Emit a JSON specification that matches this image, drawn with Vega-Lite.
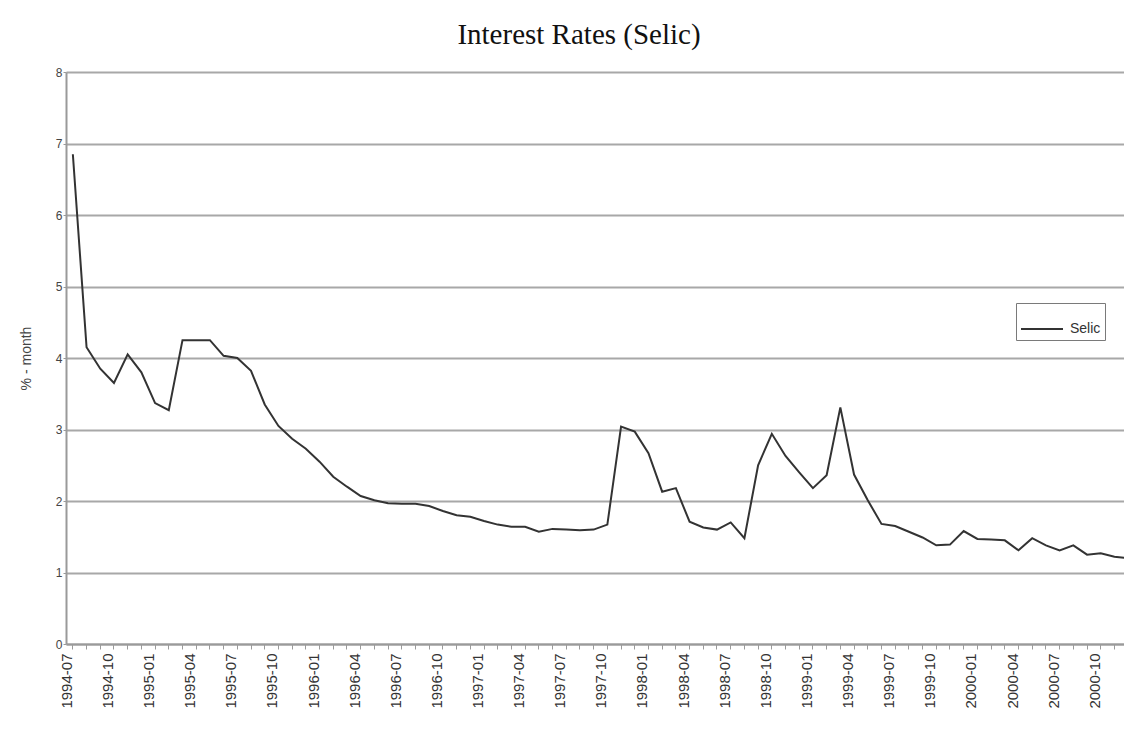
{
  "$schema": "https://vega.github.io/schema/vega-lite/v6.json",
  "width": 1058,
  "height": 572,
  "autosize": {"type": "none"},
  "padding": {"left": 66, "top": 72, "right": 0, "bottom": 94},
  "background": "white",
  "title": {
    "text": "Interest Rates (Selic)",
    "font": "Liberation Serif",
    "fontSize": 29,
    "fontWeight": "normal",
    "color": "#111111",
    "anchor": "middle",
    "baseline": "bottom",
    "offset": -13,
    "dx": -16
  },
  "config": {"view": {"stroke": null}},
  "data": {
    "values": [
      {"month": "1994-07", "selic": 6.85},
      {"month": "1994-08", "selic": 4.15},
      {"month": "1994-09", "selic": 3.85},
      {"month": "1994-10", "selic": 3.65},
      {"month": "1994-11", "selic": 4.05},
      {"month": "1994-12", "selic": 3.8},
      {"month": "1995-01", "selic": 3.37},
      {"month": "1995-02", "selic": 3.27},
      {"month": "1995-03", "selic": 4.25},
      {"month": "1995-04", "selic": 4.25},
      {"month": "1995-05", "selic": 4.25},
      {"month": "1995-06", "selic": 4.03},
      {"month": "1995-07", "selic": 4.0},
      {"month": "1995-08", "selic": 3.82},
      {"month": "1995-09", "selic": 3.35},
      {"month": "1995-10", "selic": 3.05},
      {"month": "1995-11", "selic": 2.87},
      {"month": "1995-12", "selic": 2.73},
      {"month": "1996-01", "selic": 2.55},
      {"month": "1996-02", "selic": 2.34},
      {"month": "1996-03", "selic": 2.2},
      {"month": "1996-04", "selic": 2.07},
      {"month": "1996-05", "selic": 2.01},
      {"month": "1996-06", "selic": 1.97},
      {"month": "1996-07", "selic": 1.96},
      {"month": "1996-08", "selic": 1.96},
      {"month": "1996-09", "selic": 1.93},
      {"month": "1996-10", "selic": 1.86},
      {"month": "1996-11", "selic": 1.8},
      {"month": "1996-12", "selic": 1.78},
      {"month": "1997-01", "selic": 1.72},
      {"month": "1997-02", "selic": 1.67},
      {"month": "1997-03", "selic": 1.64},
      {"month": "1997-04", "selic": 1.64},
      {"month": "1997-05", "selic": 1.57},
      {"month": "1997-06", "selic": 1.61},
      {"month": "1997-07", "selic": 1.6},
      {"month": "1997-08", "selic": 1.59},
      {"month": "1997-09", "selic": 1.6},
      {"month": "1997-10", "selic": 1.67},
      {"month": "1997-11", "selic": 3.04},
      {"month": "1997-12", "selic": 2.97},
      {"month": "1998-01", "selic": 2.67},
      {"month": "1998-02", "selic": 2.13},
      {"month": "1998-03", "selic": 2.18},
      {"month": "1998-04", "selic": 1.71},
      {"month": "1998-05", "selic": 1.63},
      {"month": "1998-06", "selic": 1.6},
      {"month": "1998-07", "selic": 1.7},
      {"month": "1998-08", "selic": 1.48},
      {"month": "1998-09", "selic": 2.5},
      {"month": "1998-10", "selic": 2.94},
      {"month": "1998-11", "selic": 2.63},
      {"month": "1998-12", "selic": 2.4},
      {"month": "1999-01", "selic": 2.18},
      {"month": "1999-02", "selic": 2.36},
      {"month": "1999-03", "selic": 3.31},
      {"month": "1999-04", "selic": 2.37},
      {"month": "1999-05", "selic": 2.01},
      {"month": "1999-06", "selic": 1.68},
      {"month": "1999-07", "selic": 1.65},
      {"month": "1999-08", "selic": 1.57},
      {"month": "1999-09", "selic": 1.49},
      {"month": "1999-10", "selic": 1.38},
      {"month": "1999-11", "selic": 1.39},
      {"month": "1999-12", "selic": 1.58},
      {"month": "2000-01", "selic": 1.47},
      {"month": "2000-02", "selic": 1.46},
      {"month": "2000-03", "selic": 1.45},
      {"month": "2000-04", "selic": 1.31},
      {"month": "2000-05", "selic": 1.48},
      {"month": "2000-06", "selic": 1.38},
      {"month": "2000-07", "selic": 1.31},
      {"month": "2000-08", "selic": 1.38},
      {"month": "2000-09", "selic": 1.25},
      {"month": "2000-10", "selic": 1.27},
      {"month": "2000-11", "selic": 1.22},
      {"month": "2000-12", "selic": 1.2}
    ]
  },
  "mark": {"type": "line", "strokeWidth": 2, "clip": true},
  "encoding": {
    "x": {
      "field": "month",
      "type": "ordinal",
      "sort": null,
      "scale": {"type": "band", "paddingInner": 0, "paddingOuter": 0, "range": [0, 1069]},
      "axis": {
        "title": null,
        "labelAngle": 270,
        "labelOverlap": false,
        "labelExpr": "indexof(['01','04','07','10'], substring(datum.value, 5, 7)) >= 0 ? datum.value : ''",
        "labelFont": "Liberation Sans",
        "labelFontSize": 15,
        "labelColor": "#333333",
        "labelPadding": 4,
        "labelOffset": -6,
        "tickSize": 5,
        "tickColor": "#9a9a9a",
        "tickWidth": 1,
        "domainColor": "#9a9a9a",
        "domainWidth": 2,
        "grid": false
      }
    },
    "y": {
      "field": "selic",
      "type": "quantitative",
      "scale": {"domain": [0, 8], "nice": false, "zero": true},
      "axis": {
        "title": "% - month",
        "titleFont": "Liberation Sans",
        "titleFontSize": 14,
        "titleFontWeight": "normal",
        "titleColor": "#444444",
        "titlePadding": 22,
        "values": [0, 1, 2, 3, 4, 5, 6, 7, 8],
        "labelFont": "Liberation Sans",
        "labelFontSize": 12,
        "labelColor": "#444444",
        "labelPadding": 1,
        "tickSize": 3,
        "tickColor": "#9a9a9a",
        "domainColor": "#9a9a9a",
        "domainWidth": 2,
        "grid": true,
        "gridColor": "#a8a8a8",
        "gridWidth": 2
      }
    },
    "color": {
      "datum": "Selic",
      "scale": {"range": ["#333333"]},
      "legend": {
        "title": null,
        "orient": "none",
        "legendX": 950,
        "legendY": 231,
        "padding": 4,
        "strokeColor": "#7a7a7a",
        "fillColor": "white",
        "symbolType": "stroke",
        "symbolSize": 1764,
        "symbolStrokeWidth": 2,
        "labelFont": "Liberation Sans",
        "labelFontSize": 14,
        "labelColor": "#333333",
        "labelOffset": 6
      }
    }
  }
}
